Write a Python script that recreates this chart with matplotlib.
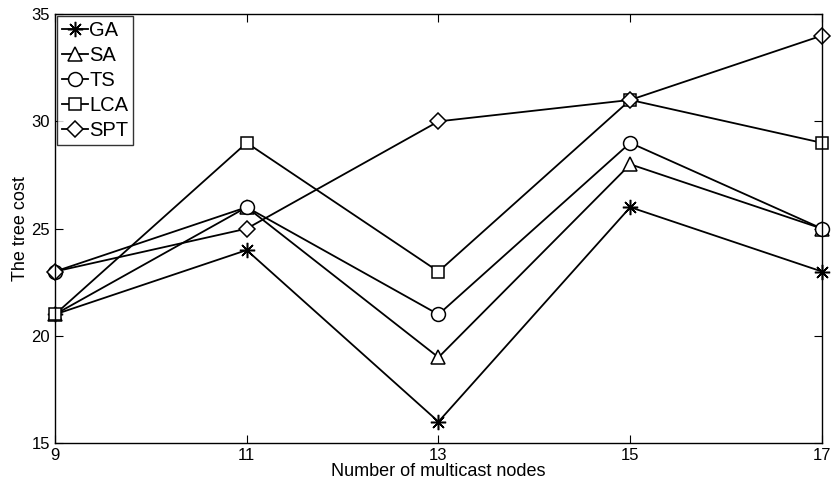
import matplotlib.pyplot as plt

plt.rcParams['font.family'] = ['Liberation Sans', 'DejaVu Sans']

nodes = [9, 11, 13, 15, 17]
ga = [21, 24, 16, 26, 23]
sa = [21, 26, 19, 28, 25]
ts = [23, 26, 21, 29, 25]
lca = [21, 29, 23, 31, 29]
spt = [23, 25, 30, 31, 34]

series = [
    ('GA', ga, (8, 2, 0)),
    ('SA', sa, '^'),
    ('TS', ts, 'o'),
    ('LCA', lca, 's'),
    ('SPT', spt, 'D'),
]

fig = plt.figure(figsize=(8.32, 4.87), dpi=100)
ax = fig.add_axes([0.066, 0.090, 0.922, 0.881])

for name, vals, mk in series:
    ms = {'D': 8, 's': 8, 'o': 10, '^': 10}.get(mk, 11)
    ax.plot(nodes, vals, color='black', lw=1.3, marker=mk, ms=ms,
            mfc='white', mec='black', mew=1.1, label=name, clip_on=False)

ax.set_xlim(9, 17)
ax.set_ylim(15, 35)
ax.set_xticks(nodes)
ax.set_yticks([15, 20, 25, 30, 35])
ax.tick_params(direction='in', top=True, right=True, length=6, labelsize=12, width=0.8)
for sp in ax.spines.values():
    sp.set_linewidth(1.0)
ax.set_xlabel('Number of multicast nodes', fontsize=13, labelpad=0)
ax.set_ylabel('The tree cost', fontsize=13, labelpad=2)

leg = ax.legend(loc='upper left', fontsize=14.5, frameon=True, fancybox=False,
                edgecolor='black', handlelength=1.3, handletextpad=0.05,
                borderaxespad=0.1, labelspacing=0.3, borderpad=0.25)
leg.get_frame().set_linewidth(1.0)

fig.savefig('out.png', dpi=100)
